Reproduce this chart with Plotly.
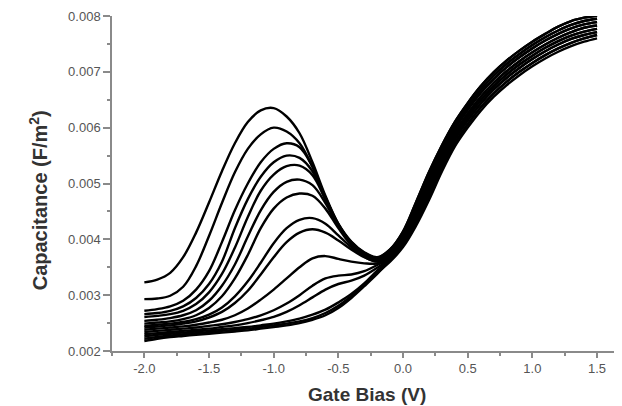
import plotly.graph_objects as go

# gate bias grid for the left part (where curves differ) and the shared right part
bias_left = [-2.0, -1.9, -1.8, -1.7, -1.6, -1.5, -1.4, -1.3, -1.2, -1.1,
             -1.0, -0.9, -0.8, -0.7, -0.6, -0.5, -0.4, -0.3, -0.2]
bias_right = [-0.1, 0.0, 0.1, 0.2, 0.3, 0.4, 0.5, 0.6, 0.7, 0.8,
              0.9, 1.0, 1.1, 1.2, 1.3, 1.4, 1.5]

# right-hand part: the curves pile up into one thick band (top to bottom)
tail_a = [0.00382, 0.00414, 0.00466, 0.00520, 0.00568, 0.00610, 0.00644, 0.00674, 0.00699,
          0.00720, 0.00738, 0.00754, 0.00768, 0.00781, 0.00791, 0.00797, 0.00801]
tail_b = [0.00379, 0.00410, 0.00460, 0.00513, 0.00561, 0.00604, 0.00638, 0.00668, 0.00693,
          0.00714, 0.00732, 0.00748, 0.00762, 0.00774, 0.00784, 0.00791, 0.00795]
tail_c = [0.00376, 0.00406, 0.00454, 0.00506, 0.00555, 0.00598, 0.00632, 0.00662, 0.00687,
          0.00708, 0.00726, 0.00742, 0.00756, 0.00768, 0.00778, 0.00785, 0.00789]
tail_d = [0.00373, 0.00402, 0.00448, 0.00499, 0.00548, 0.00591, 0.00625, 0.00655, 0.00680,
          0.00701, 0.00719, 0.00735, 0.00749, 0.00761, 0.00771, 0.00779, 0.00783]
tail_e = [0.00369, 0.00398, 0.00442, 0.00491, 0.00541, 0.00585, 0.00619, 0.00649, 0.00674,
          0.00695, 0.00713, 0.00729, 0.00743, 0.00755, 0.00765, 0.00772, 0.00777]
tail_f = [0.00366, 0.00394, 0.00436, 0.00484, 0.00534, 0.00579, 0.00613, 0.00643, 0.00668,
          0.00689, 0.00707, 0.00723, 0.00737, 0.00749, 0.00759, 0.00766, 0.00771]
tail_g = [0.00363, 0.00390, 0.00430, 0.00477, 0.00528, 0.00572, 0.00606, 0.00636, 0.00661,
          0.00682, 0.00700, 0.00716, 0.00730, 0.00742, 0.00752, 0.00760, 0.00766]
tail_h = [0.00360, 0.00386, 0.00424, 0.00470, 0.00521, 0.00566, 0.00600, 0.00630, 0.00655,
          0.00676, 0.00694, 0.00710, 0.00724, 0.00736, 0.00746, 0.00754, 0.00760]

# left-hand part of each C-V curve (F/m^2)
cv_1 = [0.00323, 0.00328, 0.00340, 0.00368, 0.00412, 0.00466, 0.00522, 0.00572, 0.00610, 0.00631,
        0.00635, 0.00620, 0.00590, 0.00538, 0.00478, 0.00428, 0.00396, 0.00377, 0.00368]
cv_2 = [0.00293, 0.00294, 0.00299, 0.00315, 0.00352, 0.00406, 0.00465, 0.00520, 0.00562, 0.00588,
        0.00600, 0.00593, 0.00572, 0.00530, 0.00475, 0.00427, 0.00394, 0.00375, 0.00366]
cv_3 = [0.00272, 0.00275, 0.00280, 0.00290, 0.00310, 0.00343, 0.00395, 0.00452, 0.00500, 0.00538,
        0.00562, 0.00572, 0.00565, 0.00530, 0.00475, 0.00427, 0.00395, 0.00376, 0.00367]
cv_4 = [0.00266, 0.00268, 0.00272, 0.00280, 0.00295, 0.00320, 0.00360, 0.00420, 0.00472, 0.00512,
        0.00538, 0.00550, 0.00546, 0.00522, 0.00473, 0.00426, 0.00393, 0.00373, 0.00364]
cv_5 = [0.00261, 0.00263, 0.00266, 0.00272, 0.00284, 0.00305, 0.00338, 0.00385, 0.00440, 0.00487,
        0.00516, 0.00531, 0.00532, 0.00515, 0.00471, 0.00425, 0.00393, 0.00374, 0.00365]
cv_6 = [0.00254, 0.00256, 0.00259, 0.00264, 0.00273, 0.00290, 0.00317, 0.00355, 0.00405, 0.00452,
        0.00485, 0.00503, 0.00507, 0.00497, 0.00465, 0.00423, 0.00391, 0.00371, 0.00362]
cv_7 = [0.00249, 0.00251, 0.00253, 0.00257, 0.00264, 0.00277, 0.00298, 0.00330, 0.00372, 0.00420,
        0.00455, 0.00475, 0.00482, 0.00478, 0.00455, 0.00420, 0.00390, 0.00372, 0.00363]
cv_8 = [0.00245, 0.00247, 0.00249, 0.00252, 0.00257, 0.00265, 0.00278, 0.00298, 0.00325, 0.00358,
        0.00393, 0.00420, 0.00435, 0.00438, 0.00428, 0.00407, 0.00386, 0.00369, 0.00360]
cv_9 = [0.00242, 0.00244, 0.00246, 0.00249, 0.00253, 0.00260, 0.00270, 0.00286, 0.00308, 0.00337,
        0.00368, 0.00395, 0.00412, 0.00418, 0.00412, 0.00398, 0.00382, 0.00368, 0.00361]
cv_10 = [0.00238, 0.00240, 0.00242, 0.00244, 0.00247, 0.00251, 0.00256, 0.00264, 0.00276, 0.00292,
         0.00310, 0.00330, 0.00350, 0.00366, 0.00370, 0.00365, 0.00360, 0.00357, 0.00357]
cv_11 = [0.00234, 0.00236, 0.00238, 0.00240, 0.00242, 0.00245, 0.00248, 0.00252, 0.00257, 0.00264,
         0.00273, 0.00285, 0.00300, 0.00317, 0.00330, 0.00335, 0.00337, 0.00343, 0.00354]
cv_12 = [0.00230, 0.00232, 0.00234, 0.00236, 0.00238, 0.00240, 0.00243, 0.00246, 0.00250, 0.00255,
         0.00261, 0.00270, 0.00282, 0.00296, 0.00310, 0.00320, 0.00326, 0.00335, 0.00349]
cv_13 = [0.00226, 0.00229, 0.00231, 0.00233, 0.00235, 0.00237, 0.00239, 0.00241, 0.00243, 0.00246,
         0.00249, 0.00253, 0.00258, 0.00265, 0.00274, 0.00287, 0.00302, 0.00321, 0.00344]
cv_14 = [0.00222, 0.00225, 0.00228, 0.00230, 0.00232, 0.00234, 0.00236, 0.00238, 0.00240, 0.00243,
         0.00246, 0.00249, 0.00253, 0.00259, 0.00268, 0.00281, 0.00298, 0.00318, 0.00340]
cv_15 = [0.00218, 0.00222, 0.00225, 0.00227, 0.00229, 0.00231, 0.00233, 0.00235, 0.00237, 0.00240,
         0.00243, 0.00246, 0.00250, 0.00256, 0.00264, 0.00277, 0.00295, 0.00316, 0.00338]

curves = [
    (cv_1, tail_a), (cv_2, tail_b), (cv_3, tail_a),
    (cv_4, tail_c), (cv_5, tail_b), (cv_6, tail_d),
    (cv_7, tail_c), (cv_8, tail_e), (cv_9, tail_d),
    (cv_10, tail_e), (cv_11, tail_f), (cv_12, tail_f),
    (cv_13, tail_g), (cv_14, tail_h), (cv_15, tail_g),
]

fig = go.Figure()

for left, tail in curves:
    fig.add_trace(go.Scatter(
        x=bias_left + bias_right,
        y=left + tail,
        mode="lines",
        line=dict(color="black", width=2.4, shape="spline", smoothing=1.0),
        showlegend=False,
        hoverinfo="skip"
    ))

axis_grey = "#8a8a8a"
label_font = "Liberation Sans, Arial, sans-serif"
tick_font = dict(family=label_font, size=13, color="#555555")
x_range = [-2.25, 1.693]

# the page body adds an 8 px margin, so the figure is 8 px smaller
fig.update_layout(
    width=614,
    height=398,
    margin=dict(l=104, r=0, t=8, b=55),
    paper_bgcolor="white",
    plot_bgcolor="white",
    xaxis=dict(
        range=x_range,
        tickvals=[-2.0, -1.5, -1.0, -0.5, 0.0, 0.5, 1.0, 1.5],
        ticktext=["-2.0", "-1.5", "-1.0", "-0.5", "0.0", "0.5", "1.0", "1.5"],
        ticks="outside",
        ticklen=5,
        tickcolor=axis_grey,
        tickwidth=1.5,
        minor=dict(dtick=0.25, tick0=0, ticks="outside", ticklen=3, tickcolor=axis_grey),
        showline=True,
        linecolor=axis_grey,
        linewidth=1.5,
        showgrid=False,
        zeroline=False,
        tickfont=tick_font,
    ),
    xaxis2=dict(
        overlaying="x",
        side="top",
        range=x_range,
        tickvals=[-2.0, -1.5, -1.0, -0.5, 0.0, 0.5, 1.0, 1.5],
        ticks="inside",
        ticklen=5,
        tickcolor=axis_grey,
        tickwidth=1.5,
        minor=dict(dtick=0.25, tick0=0, ticks="inside", ticklen=3, tickcolor=axis_grey),
        showticklabels=False,
        showline=True,
        linecolor=axis_grey,
        linewidth=1.5,
        showgrid=False,
        zeroline=False,
    ),
    yaxis=dict(
        range=[0.002, 0.008],
        tickvals=[0.002, 0.003, 0.004, 0.005, 0.006, 0.007, 0.008],
        ticktext=["0.002", "0.003", "0.004", "0.005", "0.006", "0.007", "0.008"],
        ticks="outside",
        ticklen=7,
        tickcolor=axis_grey,
        tickwidth=1.5,
        minor=dict(dtick=0.0005, tick0=0, ticks="outside", ticklen=3, tickcolor=axis_grey),
        showline=True,
        linecolor=axis_grey,
        linewidth=1.5,
        showgrid=False,
        zeroline=False,
        tickfont=tick_font,
    ),
    annotations=[
        dict(
            text="<b>Gate Bias (V)</b>",
            xref="paper", yref="paper",
            x=0.5, y=-0.13,
            xanchor="center", yanchor="middle",
            showarrow=False,
            font=dict(family=label_font, size=19, color="#333333"),
        ),
        dict(
            text="<b>Capacitance (F/m<sup>2</sup>)</b>",
            xref="paper", yref="paper",
            x=-0.145, y=0.45,
            xanchor="center", yanchor="middle",
            textangle=-90,
            showarrow=False,
            font=dict(family=label_font, size=20, color="#333333"),
        ),
    ],
)

fig.write_html("out.html")
